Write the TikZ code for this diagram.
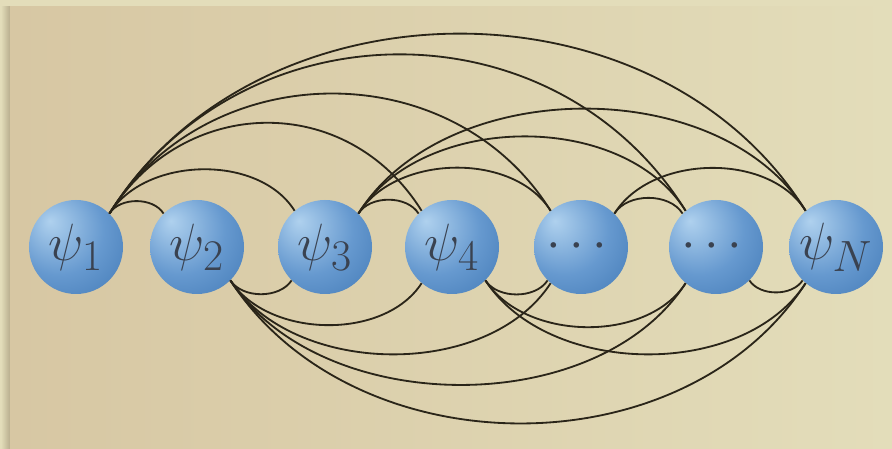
\documentclass[tikz,border=0pt]{standalone}
\usepackage{amsmath,amssymb}
\usepackage{graphicx}
\usepackage{tikz}
\usetikzlibrary{positioning}

\definecolor{paper}{HTML}{E3DDBA}
\definecolor{paperdark}{HTML}{D7C7A3}
\definecolor{papershadow}{HTML}{B8AE8E}
\definecolor{orbhi}{HTML}{AFD1EE}
\definecolor{orbmid}{HTML}{6699CF}
\definecolor{orblo}{HTML}{2862A3}
\definecolor{ink}{HTML}{2A2519}
\definecolor{labelink}{HTML}{3A4250}
\pgfdeclareradialshading{orb}{\pgfpoint{-14bp}{14bp}}{color(0bp)=(orbhi); color(24bp)=(orbmid); color(60bp)=(orblo); color(70bp)=(orblo)}
\newcommand{\orbtxt}[1]{\scalebox{1.5}{$#1$}}

\begin{document}
\begin{tikzpicture}[every node/.style={circle, shading=orb, minimum size=2.35cm, inner sep=0pt, text=labelink, font=\Huge},
  arcup/.style={ink, line width=1.3pt, out=58, in=122, looseness=0.93},
  arcdown/.style={ink, line width=1.3pt, out=-57, in=-123, looseness=0.92}]
  % paper
  \useasboundingbox (0,0) rectangle (22.3,11.225);
  \fill[paper] (0,0) rectangle (22.3,11.225);
  \shade[left color=paper, right color=papershadow] (0.02,0) rectangle (0.25,11.05);
  \shade[left color=paperdark, right color=paper] (0.25,0) rectangle (22.3,11.05);
  % the chain
  \node (p1) at (1.9,5.05)    {\orbtxt{\psi_1}};
  \node (p2) at (4.925,5.05)  {\orbtxt{\psi_2}};
  \node (p3) at (8.125,5.05)  {\orbtxt{\psi_3}};
  \node (p4) at (11.3,5.05)   {\orbtxt{\psi_4}};
  \node (p5) at (14.525,5.05) {\orbtxt{\cdots}};
  \node (p6) at (17.9,5.05)   {\orbtxt{\cdots}};
  \node (p7) at (20.9,5.05)   {\orbtxt{\psi_N}};
  % over the top
  \draw[arcup] (p1.45) to (p2.135);
  \draw[arcup] (p1.45) to (p3.130);
  \draw[arcup, looseness=1.15] (p1.45) to (p4.130);
  \draw[arcup, looseness=1.08] (p1.45) to (p5.130);
  \draw[arcup, looseness=1.1] (p1.45) to (p6.130);
  \draw[arcup, looseness=1.03] (p1.45) to (p7.130);
  \draw[arcup] (p3.45) to (p4.135);
  \draw[arcup] (p3.45) to (p5.130);
  \draw[arcup] (p3.45) to (p6.130);
  \draw[arcup] (p3.45) to (p7.130);
  \draw[arcup] (p5.45) to (p6.135);
  \draw[arcup] (p5.45) to (p7.130);
  % underneath
  \draw[arcdown] (p2.-45) to (p3.-135);
  \draw[arcdown] (p2.-45) to (p4.-130);
  \draw[arcdown] (p2.-45) to (p5.-130);
  \draw[arcdown] (p2.-45) to (p6.-130);
  \draw[arcdown, looseness=1] (p2.-45) to (p7.-130);
  \draw[arcdown] (p4.-45) to (p5.-135);
  \draw[arcdown] (p4.-45) to (p6.-130);
  \draw[arcdown] (p4.-45) to (p7.-130);
  \draw[arcdown] (p6.-45) to (p7.-135);
\end{tikzpicture}
\end{document}
